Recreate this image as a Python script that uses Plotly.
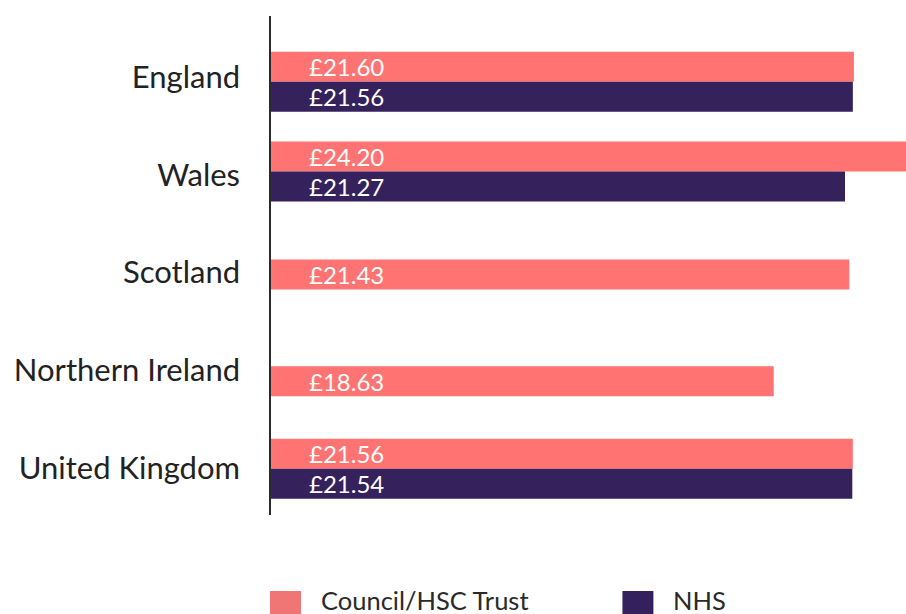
import plotly.graph_objects as go

# Hourly pay by nation and employer type
regions = ["England", "Wales", "Scotland", "Northern Ireland", "United Kingdom"]
council_pay = [21.60, 24.20, 21.43, 18.63, 21.56]
nhs_pay = [21.56, 21.27, None, None, 21.54]
series_names = ["Council/HSC Trust", "NHS"]

COUNCIL_COLOR = "#FF7373"
NHS_COLOR = "#35215C"
FONT = "Lato"

BAR_W = 0.307
# vertical placement of each bar within its category band
council_offset = [-0.259, -0.341, -0.133, -0.041, -0.30]
nhs_offset = [o + BAR_W for o in council_offset]

fig = go.Figure()
fig.add_trace(go.Bar(
    y=regions, x=council_pay, orientation="h", name=series_names[0],
    marker=dict(color=COUNCIL_COLOR, line=dict(width=0)),
    width=[BAR_W] * len(regions), offset=council_offset,
    showlegend=False, hoverinfo="skip",
))
fig.add_trace(go.Bar(
    y=regions, x=nhs_pay, orientation="h", name=series_names[1],
    marker=dict(color=NHS_COLOR, line=dict(width=0)),
    width=[BAR_W] * len(regions), offset=nhs_offset,
    showlegend=False, hoverinfo="skip",
))

# value labels inside the bars, near their base
annotations = []
for i, (c, n) in enumerate(zip(council_pay, nhs_pay)):
    for val, off in ((c, council_offset[i]), (n, nhs_offset[i])):
        if val is None:
            continue
        annotations.append(dict(
            x=0, y=i + off + BAR_W / 2, xref="x", yref="y",
            text=f"£{val:.2f}", showarrow=False, xanchor="left", yanchor="middle",
            xshift=36, font=dict(family=FONT, size=24, color="white"),
        ))

# legend drawn below the plot
legend_items = [(series_names[0], "#F07575", 0.0), (series_names[1], "#33205C", 0.555)]
shapes = []
for label, color, x0 in legend_items:
    shapes.append(dict(type="rect", xref="paper", yref="paper",
                       x0=x0 - 0.0016, x1=x0 + 0.0472, y0=-0.2124, y1=-0.1523,
                       fillcolor=color, line=dict(width=0)))
    annotations.append(dict(
        x=x0 + 0.0756, y=-0.1705, xref="paper", yref="paper", text=label,
        showarrow=False, xanchor="left", yanchor="middle",
        font=dict(family=FONT, size=25.5, color="#2a2a2a"),
    ))

fig.update_layout(
    width=906, height=614,
    margin=dict(l=271, r=0, t=16, b=99),
    paper_bgcolor="white", plot_bgcolor="white",
    barmode="group",
    showlegend=False,
    annotations=annotations,
    shapes=shapes,
    font=dict(family=FONT, color="#222222"),
)
fig.update_xaxes(range=[0, 23.53], showgrid=False, zeroline=False,
                 showticklabels=False, showline=False, fixedrange=True)
fig.update_yaxes(
    categoryorder="array", categoryarray=regions,
    range=[4.48, -0.624], showgrid=False, zeroline=False,
    showline=True, linecolor="#2b2b2b", linewidth=1.5,
    ticks="outside", ticklen=23, tickcolor="rgba(0,0,0,0)",
    tickfont=dict(family=FONT, size=31, color="#222222"),
    fixedrange=True,
)

fig.write_html("out.html")
